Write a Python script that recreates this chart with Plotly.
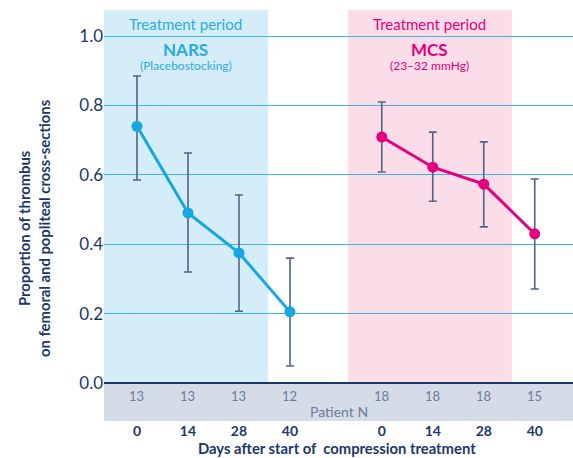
import plotly.graph_objects as go

days = [0, 14, 28, 40]
nars_mean = [0.74, 0.49, 0.375, 0.205]
nars_upper = [0.885, 0.663, 0.542, 0.36]
nars_lower = [0.585, 0.32, 0.207, 0.049]
mcs_mean = [0.709, 0.622, 0.573, 0.43]
mcs_upper = [0.81, 0.723, 0.695, 0.588]
mcs_lower = [0.608, 0.524, 0.45, 0.271]
nars_n = [13, 13, 13, 12]
mcs_n = [18, 18, 18, 15]

NAVY = "#1b3768"
BLUE = "#14a7e1"
PINK = "#e4007c"
ERR = "#4f6586"
FONT = "Lato"

gap = 4.8
x_nars = [i for i in range(len(days))]
x_mcs = [i + gap for i in range(len(days))]

fig = go.Figure()

# bands
fig.add_shape(type="rect", xref="x", yref="y", x0=-0.65, x1=2.57, y0=0, y1=1.075,
              fillcolor="#d5ecf9", line_width=0, layer="below")
fig.add_shape(type="rect", xref="x", yref="y", x0=4.14, x1=7.35, y0=0, y1=1.075,
              fillcolor="#fbdde9", line_width=0, layer="below")
fig.add_shape(type="rect", xref="paper", yref="y", x0=0, x1=1, y0=-0.11, y1=0,
              fillcolor="#d5dbe7", line_width=0, layer="below")

def series(x, mean, up, lo, color, name):
    fig.add_trace(go.Scatter(
        x=x, y=mean, mode="lines+markers", name=name,
        line=dict(color=color, width=3),
        marker=dict(color=color, size=11),
        error_y=dict(type="data", symmetric=False,
                     array=[u - m for u, m in zip(up, mean)],
                     arrayminus=[m - l for m, l in zip(mean, lo)],
                     color=ERR, thickness=1.6, width=4),
        showlegend=False, cliponaxis=False))

series(x_nars, nars_mean, nars_upper, nars_lower, BLUE, "NARS")
series(x_mcs, mcs_mean, mcs_upper, mcs_lower, PINK, "MCS")

ann = []
# band titles
for cx, col, title, sub in [(0.96, "#29abe2", "NARS", "(Placebostocking)"),
                            (5.745, PINK, "MCS", "(23\u201332 mmHg)")]:
    ann.append(dict(x=cx, y=1.035, xref="x", yref="y", text="Treatment period",
                    showarrow=False, font=dict(family=FONT, size=15, color=col)))
    ann.append(dict(x=cx, y=0.962, xref="x", yref="y", text="<b>%s</b>" % title,
                    showarrow=False, font=dict(family=FONT, size=17, color=col)))
    ann.append(dict(x=cx, y=0.914, xref="x", yref="y", text=sub,
                    showarrow=False, font=dict(family=FONT, size=12, color=col)))

# patient N
for x, n in list(zip(x_nars, nars_n)) + list(zip(x_mcs, mcs_n)):
    ann.append(dict(x=x, y=-0.037, xref="x", yref="y", text=str(n), showarrow=False,
                    font=dict(family=FONT, size=13, color="#6b7d9c")))
ann.append(dict(x=3.96, y=-0.081, xref="x", yref="y", text="Patient N", showarrow=False,
                font=dict(family=FONT, size=14, color="#6b7d9c")))

# y title
ann.append(dict(x=-0.149, y=0.47, xref="paper", yref="paper", textangle=-90,
                text="<b>Proportion of thrombus<br>on femoral and popliteal cross-sections</b>",
                showarrow=False, xanchor="center", yanchor="middle",
                font=dict(family=FONT, size=14.8, color=NAVY)))
# x title
ann.append(dict(x=0.497, y=-0.0895, xref="paper", yref="paper",
                text="<b>Days after start of  compression treatment</b>",
                showarrow=False, xanchor="center", yanchor="bottom", borderpad=0,
                font=dict(family=FONT, size=14.8, color=NAVY)))

fig.update_layout(
    width=573, height=458,
    margin=dict(l=104, r=0, t=10, b=37),
    paper_bgcolor="white", plot_bgcolor="white",
    annotations=ann,
    font=dict(family=FONT, color=NAVY),
    xaxis=dict(range=[-0.647, 8.55], showgrid=False, zeroline=False, automargin=False,
               tickvals=x_nars + x_mcs, ticktext=["<b>%d</b>" % d for d in days + days],
               tickfont=dict(family=FONT, size=14, color=NAVY), ticks=""),
    yaxis=dict(range=[-0.1095, 1.075], tickvals=[0, 0.2, 0.4, 0.6, 0.8, 1.0],
               ticktext=["0.0", "0.2", "0.4", "0.6", "0.8", "1.0"], automargin=False,
               tickfont=dict(family=FONT, size=17, color=NAVY),
               showgrid=True, gridcolor="#3db5e8", gridwidth=1.3,
               zeroline=True, zerolinecolor=NAVY, zerolinewidth=2, ticks=""),
)

fig.write_html("out.html", config={"displayModeBar": False},
               post_script="document.body.style.margin='0';document.body.style.overflow='hidden';")
